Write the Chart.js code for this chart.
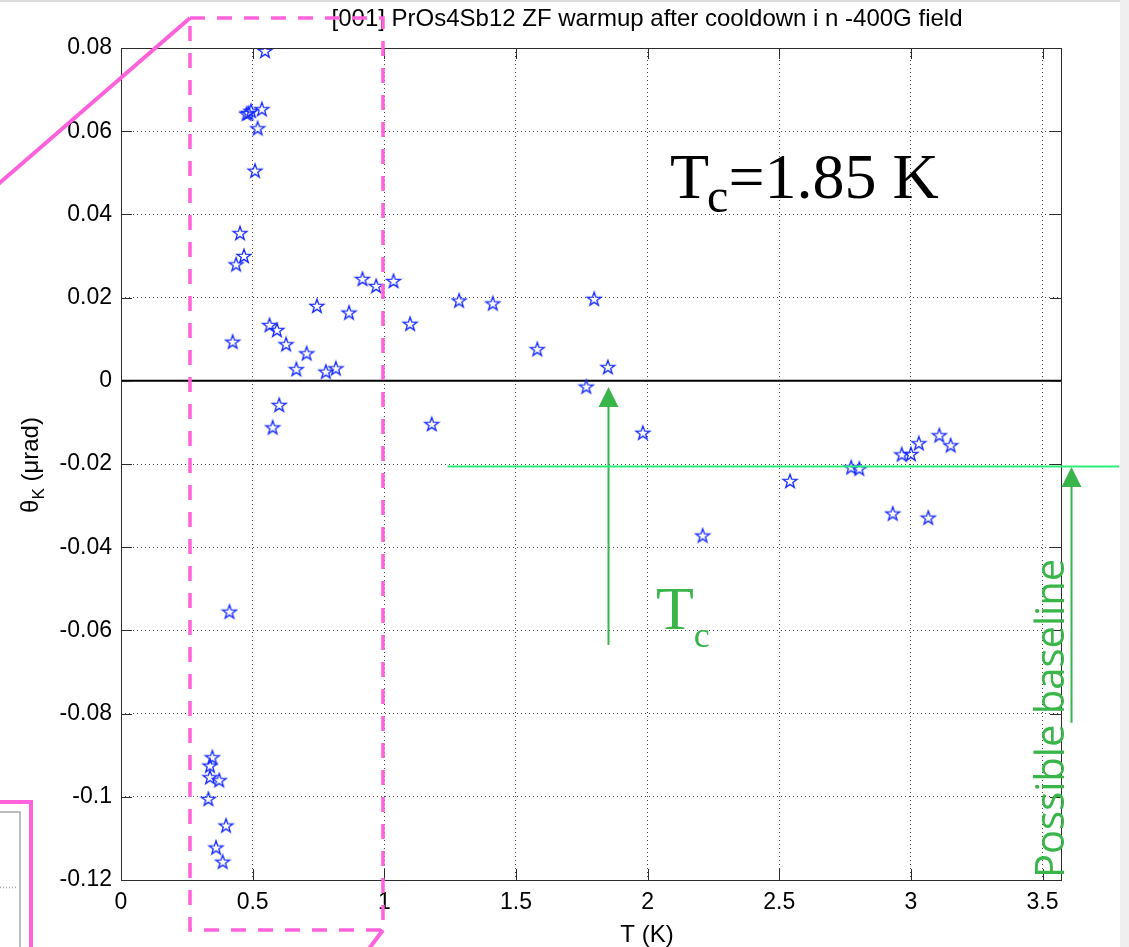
<!DOCTYPE html>
<html>
<head>
<meta charset="utf-8">
<script src="https://cdn.jsdelivr.net/npm/chart.js@4"></script>
<style>
  html, body { margin: 0; padding: 0; background: #fff; }
  canvas { display: block; }
</style>
</head>
<body>
<canvas id="kerrChart" width="1129" height="947"></canvas>
<script>
// Kerr rotation vs temperature, PrOs4Sb12 zero-field warmup
const tempK = [
  0.332, 0.338, 0.338, 0.347, 0.361, 0.373, 0.386, 0.399, 0.412, 0.424,
  0.437, 0.452, 0.467, 0.477, 0.484, 0.494, 0.509, 0.519, 0.535, 0.547,
  0.564, 0.576, 0.592, 0.601, 0.627, 0.666, 0.705, 0.744, 0.778, 0.816,
  0.866, 0.917, 0.969, 1.035, 1.098, 1.180, 1.284, 1.412, 1.581, 1.767,
  1.797, 1.849, 1.982, 2.209, 2.541, 2.773, 2.804, 2.931, 2.965, 3.000,
  3.030, 3.066, 3.108, 3.151
];
const thetaK = [
  -0.1005, -0.0925, -0.0953, -0.0905, -0.1122, -0.0960, -0.1156, -0.1069, -0.0555, 0.0094,
  0.0280, 0.0355, 0.0300, 0.0642, 0.0644, 0.0649, 0.0505, 0.0607, 0.0653, 0.0793,
  0.0134, -0.0112, 0.0122, -0.0058, 0.0088, 0.0028, 0.0066, 0.0180, 0.0022, 0.0030,
  0.0164, 0.0245, 0.0228, 0.0240, 0.0137, -0.0104, 0.0193, 0.0186, 0.0076, -0.0014,
  0.0197, 0.0033, -0.0125, -0.0372, -0.0241, -0.0208, -0.0211, -0.0319, -0.0177, -0.0176,
  -0.0150, -0.0329, -0.0131, -0.0155
];
const xTicks = [0, 0.5, 1, 1.5, 2, 2.5, 3, 3.5];
const yTicks = [-0.12, -0.1, -0.08, -0.06, -0.04, -0.02, 0, 0.02, 0.04, 0.06, 0.08];
const xRange = [0, 3.57];
const yRange = [-0.12, 0.08];

// hand annotations
const tcValue = 1.85;            // K
const tcArrow = [-0.0635, -0.0015];
const baselineTheta = -0.0205;
const baselineFrom = 1.24;
const baselineArrow = [-0.0822, -0.0205];

const fmt = v => String(Math.round(v * 1000) / 1000);

// MATLAB-like pentagram marker
const starMarker = (() => {
  const c = document.createElement('canvas');
  c.width = c.height = 18;
  const g = c.getContext('2d');
  g.beginPath();
  for (let i = 0; i < 10; i++) {
    const r = i % 2 ? 2.9 : 7.3;
    const a = -Math.PI / 2 + i * Math.PI / 5;
    g.lineTo(9 + r * Math.cos(a), 9.5 + r * Math.sin(a));
  }
  g.closePath();
  g.strokeStyle = '#1428ff';
  g.lineWidth = 1.3;
  g.stroke();
  return c;
})();

function arrowUp(ctx, x, yTop, yBottom, color) {
  ctx.save();
  ctx.strokeStyle = color;
  ctx.fillStyle = color;
  ctx.lineWidth = 2;
  ctx.beginPath();
  ctx.moveTo(x, yBottom);
  ctx.lineTo(x, yTop + 18);
  ctx.stroke();
  ctx.beginPath();
  ctx.moveTo(x, yTop);
  ctx.lineTo(x - 10, yTop + 20);
  ctx.lineTo(x + 10, yTop + 20);
  ctx.closePath();
  ctx.fill();
  ctx.restore();
}

const figureDecor = {
  id: 'figureDecor',
  afterDraw(chart) {
    const { ctx, chartArea: a, scales: { x, y } } = chart;
    ctx.save();

    // axes box and inward ticks
    ctx.strokeStyle = '#2b2b2b';
    ctx.lineWidth = 1;
    ctx.strokeRect(a.left + 0.5, a.top + 0.5, a.right - a.left, a.bottom - a.top);
    ctx.beginPath();
    xTicks.forEach(v => {
      const px = Math.round(x.getPixelForValue(v)) + 0.5;
      ctx.moveTo(px, a.bottom); ctx.lineTo(px, a.bottom - 11);
      ctx.moveTo(px, a.top); ctx.lineTo(px, a.top + 11);
    });
    yTicks.forEach(v => {
      const py = Math.round(y.getPixelForValue(v)) + 0.5;
      ctx.moveTo(a.left, py); ctx.lineTo(a.left + 11, py);
      ctx.moveTo(a.right, py); ctx.lineTo(a.right - 11, py);
    });
    ctx.stroke();

    // title and axis labels
    ctx.fillStyle = '#000';
    ctx.font = '24px "Liberation Sans", Arial, sans-serif';
    ctx.textAlign = 'center';
    ctx.textBaseline = 'middle';
    ctx.fillText('[001] PrOs4Sb12 ZF warmup after cooldown i n -400G field', 647, 19);
    ctx.font = '24px "Liberation Sans", Arial, sans-serif';
    ctx.fillText('T (K)', 647, 935);

    ctx.save();
    ctx.translate(31, 465);
    ctx.rotate(-Math.PI / 2);
    ctx.textAlign = 'left';
    ctx.textBaseline = 'alphabetic';
    const big = '24px "Liberation Sans", Arial, sans-serif';
    const small = '17px "Liberation Sans", Arial, sans-serif';
    ctx.font = big;
    const wTheta = ctx.measureText('θ').width;
    const wRest = ctx.measureText(' (μrad)').width;
    ctx.font = small;
    const wK = ctx.measureText('K').width;
    let cx = -(wTheta + wK + wRest) / 2;
    ctx.font = big;
    ctx.fillText('θ', cx, 7);
    cx += wTheta;
    ctx.font = small;
    ctx.fillText('K', cx, 13);
    cx += wK;
    ctx.font = big;
    ctx.fillText(' (μrad)', cx, 7);
    ctx.restore();

    // Tc = 1.85 K label
    ctx.textAlign = 'left';
    ctx.textBaseline = 'alphabetic';
    ctx.fillStyle = '#000';
    ctx.font = '64px "Liberation Serif", "Times New Roman", serif';
    ctx.fillText('T', 670, 198);
    let tw = ctx.measureText('T').width;
    ctx.font = '48px "Liberation Serif", "Times New Roman", serif';
    ctx.fillText('c', 670 + tw - 2, 212);
    const cw = ctx.measureText('c').width;
    ctx.font = '64px "Liberation Serif", "Times New Roman", serif';
    ctx.fillText('=' + tcValue.toFixed(2) + ' K', 670 + tw + cw - 2, 198);

    // green Tc arrow and label
    const green = '#3ab54a';
    const tcX = Math.round(x.getPixelForValue(tcValue)) + 0.5;
    arrowUp(ctx, tcX, y.getPixelForValue(tcArrow[1]), y.getPixelForValue(tcArrow[0]), green);
    ctx.fillStyle = green;
    ctx.font = '62px "Liberation Serif", "Times New Roman", serif';
    ctx.fillText('T', 656, 629);
    tw = ctx.measureText('T').width;
    ctx.font = '36px "Liberation Serif", "Times New Roman", serif';
    ctx.fillText('c', 656 + tw, 647);

    // possible baseline
    const by = Math.round(y.getPixelForValue(baselineTheta)) + 0.5;
    ctx.strokeStyle = '#2bef7a';
    ctx.lineWidth = 2;
    ctx.beginPath();
    ctx.moveTo(x.getPixelForValue(baselineFrom), by);
    ctx.lineTo(a.right + 58, by);
    ctx.stroke();
    arrowUp(ctx, a.right + 10.5, y.getPixelForValue(baselineArrow[1]) + 1, y.getPixelForValue(baselineArrow[0]), green);
    ctx.save();
    ctx.translate(a.right + 3, 878);
    ctx.rotate(-Math.PI / 2);
    ctx.fillStyle = green;
    ctx.font = '40px "Open Sans", sans-serif';
    ctx.textAlign = 'left';
    ctx.fillText('Possible baseline', 0, 0);
    ctx.restore();

    // pink zoom-region markup
    const pink = '#ff62da';
    ctx.strokeStyle = pink;
    ctx.lineWidth = 3.5;
    ctx.setLineDash([15, 12]);
    ctx.strokeRect(190, 18, 193, 912);
    ctx.setLineDash([]);
    ctx.lineWidth = 4;
    ctx.beginPath();
    ctx.moveTo(-4, 186); ctx.lineTo(190, 18);
    ctx.moveTo(383, 930); ctx.lineTo(368, 950);
    ctx.moveTo(-2, 802); ctx.lineTo(31, 802); ctx.lineTo(31, 950);
    ctx.stroke();

    // neighbouring inset edge
    ctx.strokeStyle = '#a8a8a8';
    ctx.lineWidth = 1.5;
    ctx.beginPath();
    ctx.moveTo(0, 812); ctx.lineTo(20, 812); ctx.lineTo(20, 950);
    ctx.stroke();
    ctx.setLineDash([1, 2]);
    ctx.beginPath();
    ctx.moveTo(0, 887.5); ctx.lineTo(18, 887.5);
    ctx.stroke();
    ctx.setLineDash([]);

    // window frame
    ctx.fillStyle = '#dcdcdc';
    ctx.fillRect(0, 0, chart.width, 2);
    ctx.fillStyle = '#efefef';
    ctx.fillRect(1120, 0, 9, chart.height);
    ctx.restore();
  }
};

const tickFont = { family: '"Liberation Sans", Arial, sans-serif', size: 23 };

new Chart(document.getElementById('kerrChart'), {
  type: 'scatter',
  data: {
    datasets: [{
      label: 'θK',
      data: tempK.map((t, i) => ({ x: t, y: thetaK[i] })),
      pointStyle: starMarker,
      pointRadius: 7,
      order: 1
    }, {
      type: 'line',
      label: 'zero',
      data: [{ x: xRange[0], y: 0 }, { x: xRange[1], y: 0 }],
      borderColor: '#000',
      borderWidth: 2,
      pointRadius: 0,
      order: 2
    }]
  },
  options: {
    responsive: false,
    animation: false,
    events: [],
    layout: { padding: { top: 48, right: 68, bottom: 0, left: 0 } },
    plugins: {
      legend: { display: false },
      tooltip: { enabled: false }
    },
    scales: {
      x: {
        type: 'linear',
        min: xRange[0],
        max: xRange[1],
        afterFit: s => { s.height = 67; },
        afterBuildTicks: s => { s.ticks = xTicks.map(v => ({ value: v })); },
        grid: { color: '#444', lineWidth: 1, drawTicks: false },
        border: { display: false, dash: [1, 3] },
        ticks: {
          color: '#000',
          font: tickFont,
          padding: 9,
          maxRotation: 0,
          autoSkip: false,
          callback: v => fmt(v)
        }
      },
      y: {
        type: 'linear',
        min: yRange[0],
        max: yRange[1],
        afterFit: s => { s.width = 121; },
        afterBuildTicks: s => { s.ticks = yTicks.map(v => ({ value: v })); },
        grid: { color: '#444', lineWidth: 1, drawTicks: false },
        border: { display: false, dash: [1, 3] },
        ticks: {
          color: '#000',
          font: tickFont,
          padding: 9,
          autoSkip: false,
          callback: v => fmt(v)
        }
      }
    }
  },
  plugins: [figureDecor]
});
</script>
</body>
</html>
